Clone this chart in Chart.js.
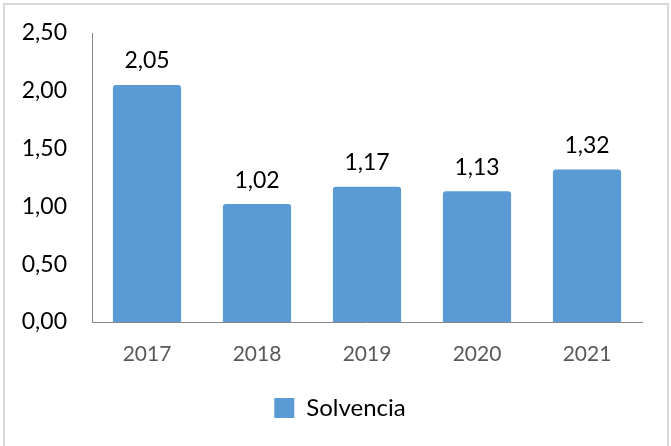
<!DOCTYPE html>
<html>
<head>
<meta charset="utf-8">
<script src="https://cdn.jsdelivr.net/npm/chart.js@4"></script>
<style>
  html, body { margin: 0; padding: 0; background: #ffffff; }
  #wrap { position: relative; width: 671px; height: 446px; overflow: hidden; }
  #frame { position: absolute; left: 3px; top: 3px; width: 662px; height: 460px; border: 2px solid #d9d9d9; pointer-events: none; }
  canvas { position: absolute; left: 0; top: 0; }
</style>
</head>
<body>
<div id="wrap">
  <canvas id="c" width="671" height="446"></canvas>
  <div id="frame"></div>
</div>
<script>
const categories = ['2017', '2018', '2019', '2020', '2021'];
const solvencia = [2.05, 1.02, 1.17, 1.13, 1.32];
const dataLabels = ['2,05', '1,02', '1,17', '1,13', '1,32'];
const yTickLabels = ['0,00', '0,50', '1,00', '1,50', '2,00', '2,50'];
const seriesName = 'Solvencia';

const FONT = 'Lato, "Open Sans", sans-serif';

const valueLabelPlugin = {
  id: 'valueLabels',
  afterDatasetsDraw(chart) {
    const ctx = chart.ctx;
    const meta = chart.getDatasetMeta(0);
    ctx.save();
    ctx.font = '23px ' + FONT;
    ctx.fillStyle = '#000000';
    ctx.textAlign = 'center';
    ctx.textBaseline = 'middle';
    meta.data.forEach((el, i) => {
      ctx.fillText(dataLabels[i], el.x, el.y - 24);
    });
    ctx.restore();
  }
};

new Chart(document.getElementById('c'), {
  type: 'bar',
  data: {
    labels: categories,
    datasets: [{
      label: seriesName,
      data: solvencia,
      backgroundColor: '#5b9bd5',
      borderWidth: 0,
      borderRadius: 3,
      categoryPercentage: 1,
      barPercentage: 0.62
    }]
  },
  options: {
    responsive: false,
    animation: false,
    devicePixelRatio: 1,
    layout: { padding: { left: 20, right: 11, top: 33, bottom: 16 } },
    plugins: {
      tooltip: { enabled: false },
      legend: {
        display: true,
        position: 'bottom',
        labels: {
          boxWidth: 20,
          boxHeight: 20,
          padding: 10,
          color: '#000000',
          font: { family: FONT, size: 24 }
        }
      }
    },
    scales: {
      x: {
        grid: { display: false, drawTicks: true, tickLength: 20, tickColor: 'rgba(0,0,0,0)' },
        border: { display: true, color: '#868686', width: 1 },
        ticks: { color: '#595959', font: { family: FONT, size: 21 }, padding: 0, maxRotation: 0 },
        afterFit(scale) { scale.height = 64; }
      },
      y: {
        min: 0,
        max: 2.5,
        grid: { display: false, drawTicks: true, tickLength: 25, tickColor: 'rgba(0,0,0,0)' },
        border: { display: true, color: '#868686', width: 1 },
        ticks: {
          stepSize: 0.5,
          color: '#000000',
          padding: 0,
          font: { family: FONT, size: 23 },
          callback(value, index) { return yTickLabels[index]; }
        },
        afterFit(scale) { scale.width = 72; }
      },
      yRightSpacer: {
        position: 'right',
        display: true,
        grid: { display: false, drawTicks: false },
        border: { display: false },
        ticks: { display: false },
        afterFit(scale) { scale.width = 18; }
      }
    }
  },
  plugins: [valueLabelPlugin]
});
</script>
</body>
</html>
